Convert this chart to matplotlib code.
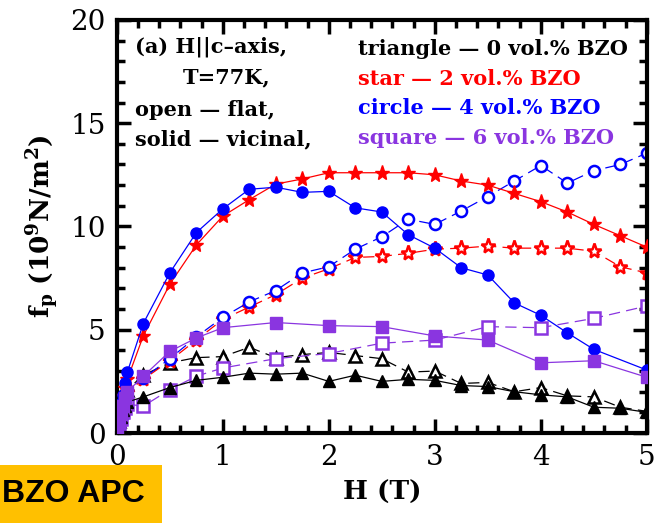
import numpy as np
import matplotlib
matplotlib.use('Agg')
import matplotlib.pyplot as plt
from matplotlib.ticker import MultipleLocator
from matplotlib.patches import Rectangle

# field values (T)
h_low = [0.0, 0.02, 0.04, 0.06, 0.08, 0.1]
h_quarter = [0.25, 0.5, 0.75, 1.0, 1.25, 1.5, 1.75, 2.0, 2.25, 2.5, 2.75, 3.0,
             3.25, 3.5, 3.75, 4.0, 4.25, 4.5, 4.75, 5.0]
h_blue_v = [0.25, 0.5, 0.75, 1.0, 1.25, 1.5, 1.75, 2.0, 2.25, 2.5, 2.75, 3.0,
            3.25, 3.5, 3.75, 4.0, 4.25, 4.5, 5.0]
h_purple = [0.25, 0.5, 0.75, 1.0, 1.5, 2.0, 2.5, 3.0, 3.5, 4.0, 4.5, 5.0]

# 0 vol.% BZO (triangles)
tri_vicinal = [0.1, 0.5, 0.8, 1.1, 1.3, 1.5,
               1.75, 2.2, 2.55, 2.7, 2.9, 2.85, 2.9, 2.5, 2.8, 2.5, 2.6, 2.55,
               2.3, 2.25, 2.0, 1.85, 1.75, 1.25, 1.2, 1.0]
tri_flat = [0.1, 0.6, 1.0, 1.4, 1.8, 2.1,
            2.8, 3.4, 3.65, 3.7, 4.15, 3.65, 3.8, 3.9, 3.75, 3.6, 2.95, 3.0,
            2.4, 2.45, 2.0, 2.2, 1.8, 1.75, 1.25, 1.05]

# 2 vol.% BZO (stars)
star_vicinal = [0.2, 0.9, 1.4, 1.8, 2.2, 2.6,
                4.7, 7.2, 9.1, 10.5, 11.3, 12.05, 12.3, 12.6, 12.6, 12.6, 12.6, 12.5,
                12.2, 12.0, 11.6, 11.2, 10.7, 10.1, 9.55, 9.0]
star_flat = [0.1, 0.6, 1.0, 1.3, 1.7, 2.0,
             2.6, 3.5, 4.5, 5.5, 6.1, 6.7, 7.5, 7.95, 8.5, 8.55, 8.7, 8.9,
             8.95, 9.05, 8.95, 8.95, 8.95, 8.8, 8.05, 7.75]

# 4 vol.% BZO (circles)
circ_vicinal = [0.2, 1.0, 1.45, 1.85, 2.4, 2.95,
                5.3, 7.75, 9.7, 10.85, 11.8, 11.9, 11.65, 11.7, 10.9, 10.7, 9.6, 8.95,
                8.0, 7.65, 6.3, 5.7, 4.85, 4.05, 3.05]
circ_flat = [0.1, 0.6, 1.0, 1.4, 1.8, 2.1,
             2.65, 3.6, 4.65, 5.6, 6.35, 6.9, 7.75, 8.05, 8.9, 9.5, 10.35, 10.1,
             10.75, 11.45, 12.2, 12.95, 12.1, 12.7, 13.0, 13.55]

# 6 vol.% BZO (squares)
sq_vicinal = [0.1, 0.5, 0.9, 1.3, 1.7, 2.0,
              2.75, 3.95, 4.6, 5.1, 5.35, 5.2, 5.15, 4.7, 4.5, 3.4, 3.5, 2.7]
sq_flat = [0.1, 0.4, 0.7, 1.0, 1.2, 1.4,
           1.3, 2.1, 2.75, 3.15, 3.6, 3.85, 4.35, 4.5, 5.15, 5.1, 5.55, 6.15]

legend_lines = ['triangle \u2014 0 vol.% BZO', 'star \u2014 2 vol.% BZO',
                'circle \u2014 4 vol.% BZO', 'square \u2014 6 vol.% BZO']
notes = ['(a) H||c\u2013axis,', 'T=77K,', 'open \u2014 flat,', 'solid \u2014 vicinal,']

BLACK = 'black'
RED = '#ff0000'
BLUE = '#0000ff'
PURPLE = '#8a35e0'

plt.rcParams['mathtext.fontset'] = 'dejavuserif'

fig = plt.figure(figsize=(6.56, 5.23), dpi=100)
ax = fig.add_axes([0.178, 0.172, 0.808, 0.79])

series = [
    (h_low + h_quarter, tri_vicinal, tri_flat, h_low + h_quarter, BLACK, '^', 8),
    (h_low + h_quarter, star_vicinal, star_flat, h_low + h_quarter, RED, '*', 11),
    (h_low + h_blue_v, circ_vicinal, circ_flat, h_low + h_quarter, BLUE, 'o', 8),
    (h_low + h_purple, sq_vicinal, sq_flat, h_low + h_purple, PURPLE, 's', 8),
]
for hv, yv, yf, hf, col, mk, ms in series:
    ax.plot(hf, yf, color=col, lw=0.9, ls=(0, (9, 5)), marker=mk, ms=ms,
            mfc='white', mec=col, mew=1.8, zorder=2)
    ax.plot(hv, yv, color=col, lw=0.9, ls='-', marker=mk, ms=ms,
            mfc=col, mec=col, zorder=3)

ax.set_xlim(0, 5)
ax.set_ylim(0, 20)
ax.xaxis.set_major_locator(MultipleLocator(1))
ax.xaxis.set_minor_locator(MultipleLocator(0.2))
ax.yaxis.set_major_locator(MultipleLocator(5))
ax.yaxis.set_minor_locator(MultipleLocator(1))
ax.tick_params(which='both', direction='in', top=True, right=True, width=2.5,
               labelsize=20, labelfontfamily='DejaVu Serif')
ax.tick_params(which='major', length=10, pad=8)
ax.tick_params(which='minor', length=6)
for s in ax.spines.values():
    s.set_linewidth(3)

ax.set_xlabel('H (T)', fontsize=19, fontweight='bold', family='DejaVu Serif', labelpad=6)
ax.set_ylabel(r'$\mathbf{f_p\ (10^9N/m^2)}$', fontsize=19, labelpad=6)

tkw = dict(fontsize=15, fontweight='bold', family='DejaVu Serif', transform=ax.transAxes)
ax.text(0.035, 0.935, notes[0], va='center', **tkw)
ax.text(0.125, 0.86, notes[1], va='center', **tkw)
ax.text(0.035, 0.783, notes[2], va='center', **tkw)
ax.text(0.035, 0.71, notes[3], va='center', **tkw)

for i, (txt, col) in enumerate(zip(legend_lines, [BLACK, RED, BLUE, PURPLE])):
    ax.text(0.455, 0.93 - i * 0.072, txt, color=col, va='center', **tkw)

fig.patches.append(Rectangle((0, 0), 162 / 656, 58 / 523, transform=fig.transFigure,
                             facecolor='#ffc000', edgecolor='none', zorder=5))
fig.text(0.003, 0.055, 'BZO APC', fontsize=23, fontweight='bold',
         family='Liberation Sans', va='center', ha='left', zorder=6)

fig.savefig('out.png', dpi=100)
